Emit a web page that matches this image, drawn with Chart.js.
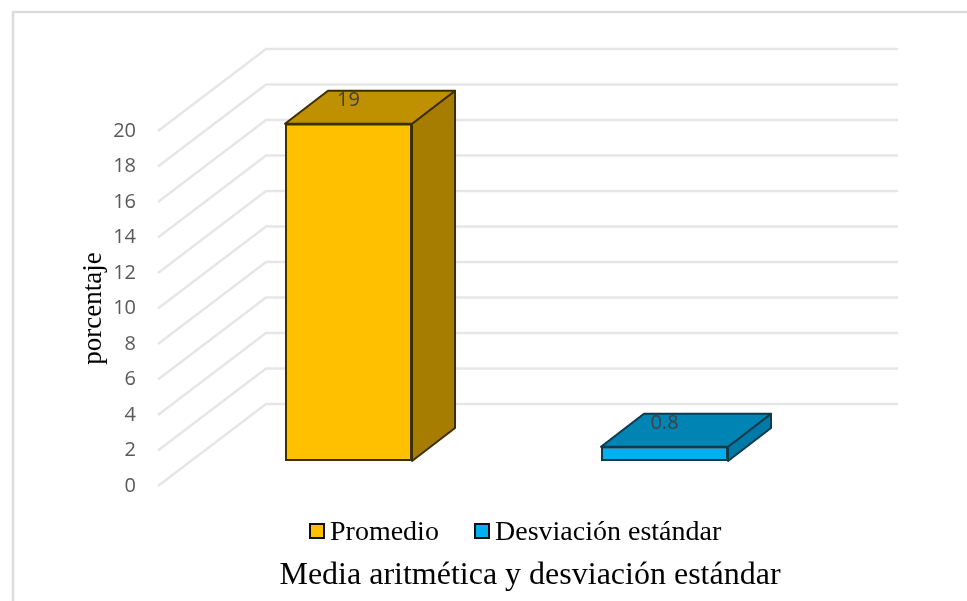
<!DOCTYPE html>
<html>
<head>
<meta charset="utf-8">
<script src="https://cdn.jsdelivr.net/npm/chart.js@4"></script>
<style>
  html, body { margin: 0; padding: 0; background: #fff; }
  canvas { display: block; }
</style>
</head>
<body>
<canvas id="grafico" width="967" height="601"></canvas>
<script>
var categorias = ['Promedio', 'Desviación estándar'];
var valores = [19, 0.8];
var etiquetas = ['19', '0.8'];
var tituloX = 'Media aritmética y desviación estándar';
var tituloY = 'porcentaje';

var colorFrente = ['#FFC000', '#00B0F0'];
var colorTapa = ['#BF9000', '#0084B4'];
var colorLado = ['#A67D00', '#0079A6'];
var colorBorde = ['#3D2E00', '#0B3A4D'];

// desplazamiento del frente de las barras y profundidad de la barra y de la pared
var frente = { x: 32.5, y: -25 };
var prof = { x: 43, y: -33 };
var pared = { x: 108, y: -82, fin: 898 };

function poligono(c, puntos, relleno, borde) {
    c.beginPath();
    puntos.forEach(function (p, i) {
        if (i === 0) c.moveTo(p[0], p[1]); else c.lineTo(p[0], p[1]);
    });
    c.closePath();
    c.fillStyle = relleno;
    c.fill();
    c.lineWidth = 2;
    c.strokeStyle = borde;
    c.lineJoin = 'round';
    c.stroke();
}

var tresD = {
    id: 'tresD',
    beforeDraw: function (chart) {
        // marco exterior, solo izquierda y arriba
        var c = chart.ctx;
        c.save();
        c.strokeStyle = '#DCDCDC';
        c.lineWidth = 2.5;
        c.beginPath();
        c.moveTo(13, 601);
        c.lineTo(13, 12);
        c.lineTo(967, 12);
        c.stroke();
        c.restore();
    },
    beforeDatasetsDraw: function (chart) {
        var c = chart.ctx, y = chart.scales.y, x0 = chart.chartArea.left;
        c.save();
        c.strokeStyle = '#E6E6E6';
        c.lineWidth = 2.5;
        y.ticks.forEach(function (t) {
            var py = y.getPixelForValue(t.value);
            c.beginPath();
            c.moveTo(x0, py);
            c.lineTo(x0 + pared.x, py + pared.y);
            c.lineTo(pared.fin, py + pared.y);
            c.stroke();
        });
        c.restore();
    },
    beforeDatasetDraw: function (chart) {
        chart.ctx.save();
        chart.ctx.translate(frente.x, frente.y);
    },
    afterDatasetDraw: function (chart, args) {
        var c = chart.ctx;
        args.meta.data.forEach(function (b, i) {
            var l = b.x - b.width / 2, r = b.x + b.width / 2;
            poligono(c, [[r, b.y], [r + prof.x, b.y + prof.y], [r + prof.x, b.base + prof.y], [r, b.base]], colorLado[i], colorBorde[i]);
            poligono(c, [[l, b.y], [l + prof.x, b.y + prof.y], [r + prof.x, b.y + prof.y], [r, b.y]], colorTapa[i], colorBorde[i]);
            c.fillStyle = '#404040';
            c.font = '20px "Open Sans"';
            c.textAlign = 'center';
            c.textBaseline = 'middle';
            c.fillText(etiquetas[i], b.x, b.y - 23.5);
        });
        c.restore();
    },
    afterDraw: function (chart) {
        var c = chart.ctx;
        c.save();
        c.textBaseline = 'alphabetic';
        c.textAlign = 'left';
        c.font = '28px "Liberation Serif"';
        var cajas = [310, 475];
        categorias.forEach(function (nombre, i) {
            c.fillStyle = colorFrente[i];
            c.fillRect(cajas[i], 524, 14, 14);
            c.strokeStyle = '#111';
            c.lineWidth = 2;
            c.strokeRect(cajas[i], 524, 14, 14);
            c.fillStyle = '#000';
            c.fillText(nombre, cajas[i] + 20, 540);
        });
        c.textAlign = 'center';
        c.font = '32px "Liberation Serif"';
        c.fillText(tituloX, 530, 584);
        c.restore();
    }
};

var ctx = document.getElementById('grafico').getContext('2d');
var grafico = new Chart(ctx, {
    type: 'bar',
    data: {
        labels: categorias,
        datasets: [{
            label: 'porcentaje',
            data: valores,
            backgroundColor: colorFrente,
            borderColor: colorBorde,
            borderWidth: 2,
            borderSkipped: false,
            barPercentage: 0.402,
            categoryPercentage: 1
        }]
    },
    options: {
        responsive: false,
        animation: false,
        layout: { padding: { top: 131, right: 177, bottom: 115, left: 70 } },
        plugins: {
            legend: { display: false },
            tooltip: { enabled: false }
        },
        scales: {
            x: {
                afterFit: function (s) { s.height = 0; },
                ticks: { display: false },
                grid: { display: false },
                border: { display: false }
            },
            y: {
                min: 0,
                max: 20,
                afterFit: function (s) { s.width = 88; },
                ticks: {
                    stepSize: 2,
                    padding: 22,
                    color: '#595959',
                    font: { family: 'Open Sans', size: 20 }
                },
                grid: { display: false, drawTicks: false },
                border: { display: false },
                title: {
                    display: true,
                    text: tituloY,
                    color: '#000',
                    padding: { top: 8, bottom: 0 },
                    font: { family: 'Liberation Serif', size: 27 }
                }
            }
        }
    },
    plugins: [tresD]
});
</script>
</body>
</html>
